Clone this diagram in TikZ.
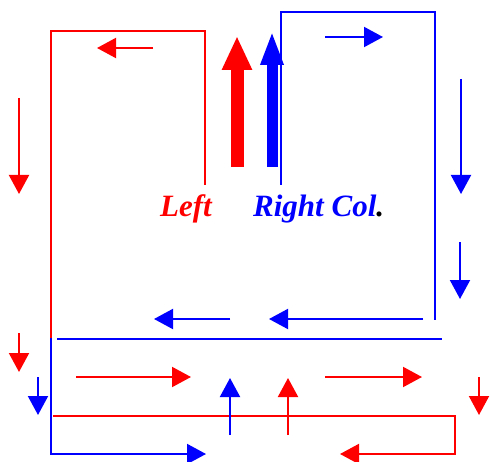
\documentclass[tikz,border=0pt]{standalone}
\usepackage{fontspec}
\setmainfont{Liberation Serif}
\usepackage{xcolor}
\usepackage{tikz}
\usetikzlibrary{arrows.meta}

\begin{document}
\begin{tikzpicture}[x=1pt, y=-1pt,
  redline/.style ={draw=red, line width=1.6pt},
  blueline/.style={draw=blue, line width=1.6pt},
  redarr/.style  ={-{Triangle[length=19pt, width=20pt]}, red, line width=2pt},
  bluearr/.style ={-{Triangle[length=19pt, width=20pt]}, blue, line width=2pt},
  bigarr/.style  ={-{Triangle[length=34pt, width=28pt]}, line width=13pt},
  colname/.style ={font=\fontsize{31}{31}\selectfont\bfseries\itshape,
                   inner sep=0pt, anchor=base west},
]
\useasboundingbox (0,0) rectangle (492,462);

% === Column outlines ===
\draw[redline] (205,185) -- (205,31) -- (51,31) -- (51,338);
\draw[blueline] (281,185) -- (281,12) -- (435,12) -- (435,320);
\draw[blueline] (57,339) -- (442,339);
\draw[redline] (53,416) -- (455,416) -- (455,454) -- (355,454);
\draw[redarr] (358,454) -- (340,454);
\draw[blueline] (51,338) -- (51,454) -- (190,454);
\draw[bluearr] (188,454) -- (206,454);

% === Big arrows ===
\draw[bigarr, red] (237,167) -- (237,36);
\draw[bigarr, blue, line width=11pt,
      -{Triangle[length=34pt, width=21pt]}] (272,167) -- (272,31);

% === Labels ===
\node[colname, red] (left) at (160,217) {Left};
\node[colname, blue] (right) at (253,217) {Right Col\textcolor{black}{.}};

% === Flow arrows, upper part ===
\draw[redarr]  (153,48) -- (97,48);
\draw[redarr]  (19,98) -- (19,194);
\draw[bluearr] (325,37) -- (383,37);
\draw[bluearr] (461,79) -- (461,194);
\draw[bluearr] (460,242) -- (460,299);

% === Flow arrows, lower part ===
\draw[bluearr] (230,319) -- (154,319);
\draw[bluearr] (423,319) -- (269,319);
\draw[redarr]  (19,333) -- (19,372);
\draw[bluearr] (38,377) -- (38,415);
\draw[redarr]  (76,377) -- (191,377);
\draw[redarr]  (325,377) -- (422,377);
\draw[bluearr] (230,435) -- (230,378);
\draw[redarr]  (288,435) -- (288,378);
\draw[redarr]  (479,377) -- (479,415);

\end{tikzpicture}
\end{document}
